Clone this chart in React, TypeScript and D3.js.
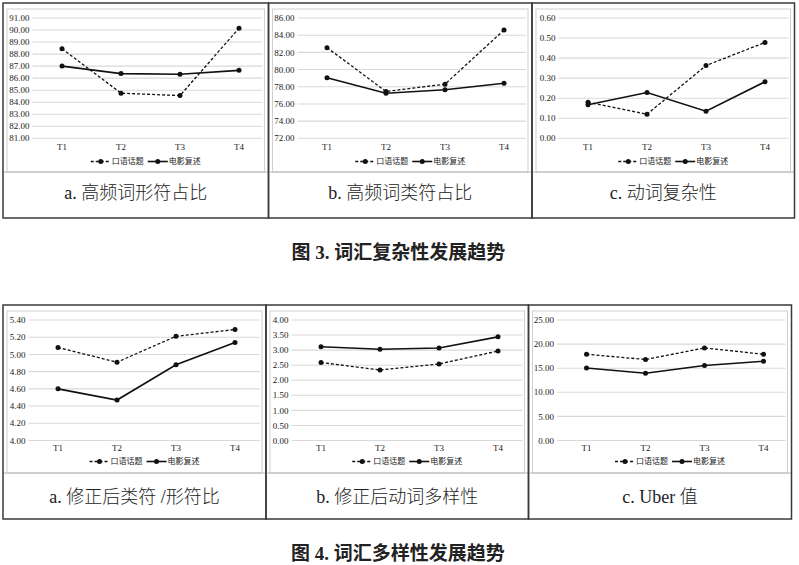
import * as d3 from "d3";

// time points and series
const periods = ["T1", "T2", "T3", "T4"];
const seriesNames = ["口语话题", "电影复述"];

// 图 3
const hfTokenSpoken = [88.45, 84.75, 84.55, 90.15];
const hfTokenFilm = [87.0, 86.38, 86.32, 86.65];
const hfTypeSpoken = [82.55, 77.45, 78.3, 84.6];
const hfTypeFilm = [79.05, 77.25, 77.65, 78.4];
const verbCxSpoken = [0.18, 0.12, 0.363, 0.478];
const verbCxFilm = [0.167, 0.228, 0.135, 0.282];

// 图 4
const ttrSpoken = [5.08, 4.91, 5.21, 5.29];
const ttrFilm = [4.6, 4.47, 4.88, 5.14];
const verbVarSpoken = [2.59, 2.34, 2.54, 2.97];
const verbVarFilm = [3.11, 3.03, 3.07, 3.44];
const uberSpoken = [17.9, 16.8, 19.2, 17.9];
const uberFilm = [15.05, 13.95, 15.55, 16.45];

const ticksA = d3.range(81, 92, 1);
const ticksB = d3.range(72, 87, 2);
const ticksC = [0, 0.1, 0.2, 0.3, 0.4, 0.5, 0.6];
const ticksD = [4.0, 4.2, 4.4, 4.6, 4.8, 5.0, 5.2, 5.4];
const ticksE = [0, 0.5, 1, 1.5, 2, 2.5, 3, 3.5, 4];
const ticksF = [0, 5, 10, 15, 20, 25];

const captions = [
  "a. 高频词形符占比",
  "b. 高频词类符占比",
  "c. 动词复杂性",
  "a. 修正后类符 /形符比",
  "b. 修正后动词多样性",
  "c. Uber 值",
];
const figTitles = ["图 3. 词汇复杂性发展趋势", "图 4. 词汇多样性发展趋势"];

type PanelSpec = {
  x0: number;
  x1: number;
  row: 0 | 1;
  plotLeft: number;
  ticks: number[];
  spoken: number[];
  film: number[];
  caption: string;
};

const rows = [
  { top: 3, sep: 172, bottom: 218, yTop: 18, yBottom: 138.3, xLab: 146.5, legend: 161.5, cap: 193 },
  { top: 305, sep: 473, bottom: 519, yTop: 320, yBottom: 440.5, xLab: 448, legend: 461.5, cap: 497 },
];

const panels: PanelSpec[] = [
  { x0: 3, x1: 268.5, row: 0, plotLeft: 29.5, ticks: ticksA, spoken: hfTokenSpoken, film: hfTokenFilm, caption: captions[0] },
  { x0: 268.5, x1: 532, row: 0, plotLeft: 29, ticks: ticksB, spoken: hfTypeSpoken, film: hfTypeFilm, caption: captions[1] },
  { x0: 532, x1: 794.5, row: 0, plotLeft: 26.5, ticks: ticksC, spoken: verbCxSpoken, film: verbCxFilm, caption: captions[2] },
  { x0: 3, x1: 266, row: 1, plotLeft: 25.5, ticks: ticksD, spoken: ttrSpoken, film: ttrFilm, caption: captions[3] },
  { x0: 266, x1: 528.5, row: 1, plotLeft: 25.5, ticks: ticksE, spoken: verbVarSpoken, film: verbVarFilm, caption: captions[4] },
  { x0: 528.5, x1: 791.5, row: 1, plotLeft: 28.5, ticks: ticksF, spoken: uberSpoken, film: uberFilm, caption: captions[5] },
];

const latin = "'Liberation Serif', 'Noto Sans CJK SC', serif";
const cjk = "'Noto Sans CJK SC', sans-serif";

function Panel({ p }: { p: PanelSpec }) {
  const r = rows[p.row];
  const left = p.x0 + p.plotLeft;
  const x = d3.scaleBand<string>().domain(periods).range([left, left + 236]);
  const cx = (d: string) => (x(d) ?? 0) + x.bandwidth() / 2;
  const y = d3
    .scaleLinear()
    .domain([p.ticks[0], p.ticks[p.ticks.length - 1]])
    .range([r.yBottom, r.yTop]);
  const gridRight = Math.min(left + 236, p.x1 - 6);
  const line = d3
    .line<number>()
    .x((_, i) => cx(periods[i]))
    .y((v) => y(v));
  const fmt = d3.format(".2f");
  const mid = (p.x0 + p.x1) / 2;
  const lg = mid - 45;

  return (
    <g>
      {/* chart frame */}
      <rect x={p.x0 + 4} y={r.top + 6} width={p.x1 - p.x0 - 8} height={r.sep - r.top - 6} fill="none" stroke="#cfcfcf" strokeWidth={1} />
      {p.ticks.map((t) => (
        <g key={t}>
          <line x1={left} x2={gridRight} y1={y(t)} y2={y(t)} stroke="#d9d9d9" strokeWidth={1.1} />
          <text x={left - 3} y={y(t)} dy="0.35em" textAnchor="end" fontSize={9} fontFamily={latin} fill="#1a1a1a">
            {fmt(t)}
          </text>
        </g>
      ))}
      {periods.map((d) => (
        <text key={d} x={cx(d)} y={r.xLab} dy="0.35em" textAnchor="middle" fontSize={9} fontFamily={latin} fill="#1a1a1a">
          {d}
        </text>
      ))}
      <path d={line(p.spoken) ?? ""} fill="none" stroke="#111" strokeWidth={1.3} strokeDasharray="3,2" />
      <path d={line(p.film) ?? ""} fill="none" stroke="#111" strokeWidth={1.6} />
      {p.spoken.map((v, i) => (
        <circle key={"s" + i} cx={cx(periods[i])} cy={y(v)} r={2.5} fill="#111" />
      ))}
      {p.film.map((v, i) => (
        <circle key={"f" + i} cx={cx(periods[i])} cy={y(v)} r={2.5} fill="#111" />
      ))}
      {/* legend */}
      <line x1={lg} x2={lg + 20} y1={r.legend} y2={r.legend} stroke="#111" strokeWidth={1.3} strokeDasharray="3,2" />
      <circle cx={lg + 10} cy={r.legend} r={2.5} fill="#111" />
      <text x={lg + 21} y={r.legend} dy="0.35em" fontSize={8} fontFamily={cjk} fill="#222">
        {seriesNames[0]}
      </text>
      <line x1={lg + 57} x2={lg + 77} y1={r.legend} y2={r.legend} stroke="#111" strokeWidth={1.6} />
      <circle cx={lg + 67} cy={r.legend} r={2.5} fill="#111" />
      <text x={lg + 78} y={r.legend} dy="0.35em" fontSize={8} fontFamily={cjk} fill="#222">
        {seriesNames[1]}
      </text>
      {/* separator and caption */}
      <line x1={p.x0} x2={p.x1} y1={r.sep} y2={r.sep} stroke="#b5b5b5" strokeWidth={1} />
      <text x={mid} y={r.cap} dy="0.35em" textAnchor="middle" fontSize={18} fontWeight={300} fontFamily={latin} fill="#222">
        {p.caption}
      </text>
      <rect x={p.x0} y={r.top} width={p.x1 - p.x0} height={r.bottom - r.top} fill="none" stroke="#3a3a3a" strokeWidth={1.5} />
    </g>
  );
}

export default function App() {
  return (
    <svg width={799} height={565} style={{ position: "absolute", left: 0, top: 0, background: "#fff" }}>
      {panels.map((p, i) => (
        <Panel key={i} p={p} />
      ))}
      <text x={398.5} y={252} dy="0.35em" textAnchor="middle" fontSize={19} fontWeight={700} fontFamily={latin} fill="#222">
        {figTitles[0]}
      </text>
      <text x={398} y={553} dy="0.35em" textAnchor="middle" fontSize={19} fontWeight={700} fontFamily={latin} fill="#222">
        {figTitles[1]}
      </text>
    </svg>
  );
}
